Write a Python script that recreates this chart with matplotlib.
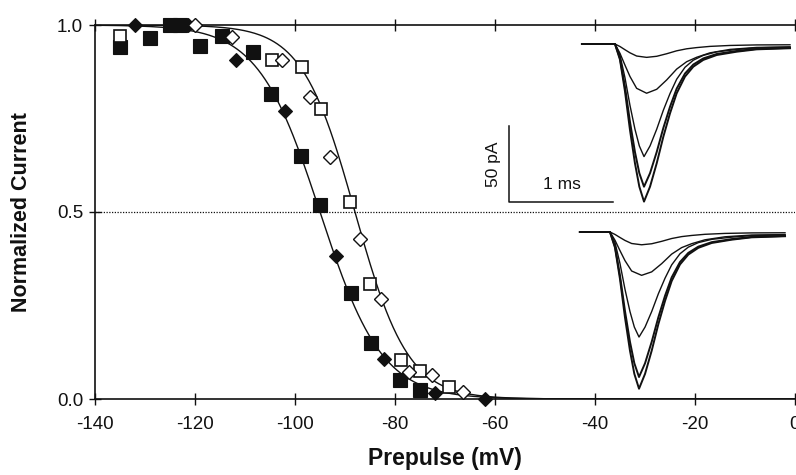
"""
Steady-state inactivation curves with example current traces (inset).
"""

import numpy as np
import matplotlib

matplotlib.use("Agg")
import matplotlib.pyplot as plt

plt.rcParams["font.family"] = ["Liberation Sans", "DejaVu Sans"]
plt.rcParams["axes.unicode_minus"] = False

# --- data ---------------------------------------------------------------
# filled squares
sq_fill_v = [-135, -129, -125, -123, -119, -114.7, -108.5, -104.8, -98.8, -95,
             -88.9, -84.8, -79, -75]
sq_fill_i = [0.94, 0.964, 1.0, 1.0, 0.943, 0.971, 0.928, 0.815, 0.65, 0.519,
             0.284, 0.15, 0.051, 0.025]
# filled diamonds
dm_fill_v = [-132, -121.5, -111.8, -102, -91.8, -82.2, -72, -62]
dm_fill_i = [1.0, 1.0, 0.906, 0.77, 0.382, 0.107, 0.015, 0.0]
# open squares
sq_open_v = [-135, -104.7, -98.7, -94.9, -89, -85.1, -78.9, -75, -69.2]
sq_open_i = [0.971, 0.906, 0.887, 0.775, 0.526, 0.307, 0.104, 0.074, 0.032]
# open diamonds
dm_open_v = [-120, -112.7, -102.7, -97, -93, -87.1, -82.9, -77.3, -72.7, -66.4]
dm_open_i = [1.0, 0.969, 0.906, 0.807, 0.648, 0.427, 0.267, 0.073, 0.064, 0.02]

# Boltzmann fits: (V1/2 in mV, slope k in mV)
fit_filled = (-95.0, 6.2)
fit_open = (-88.0, 5.3)

# inset traces: normalised waveforms (ms after onset, fraction of peak)
# large currents
big_t = [0.0, 0.048, 0.096, 0.144, 0.192, 0.234, 0.279, 0.337, 0.401, 0.465,
         0.529, 0.593, 0.673, 0.753, 0.849, 0.978, 1.17, 1.362, 1.683]
big_f = [0.0, 0.10, 0.30, 0.545, 0.757, 0.905, 1.0, 0.905, 0.757, 0.588,
         0.44, 0.313, 0.207, 0.144, 0.101, 0.07, 0.049, 0.034, 0.027]
# small currents (broader)
small_t = [0.0, 0.048, 0.096, 0.144, 0.208, 0.304, 0.401, 0.497, 0.593,
           0.689, 0.785, 0.913, 1.106, 1.362, 1.683]
small_f = [0.0, 0.19, 0.43, 0.66, 0.90, 1.0, 0.92, 0.73, 0.51, 0.36, 0.27,
           0.18, 0.11, 0.07, 0.06]
# peak amplitudes (pA) of the two families of traces
peaks_top = [8.8, 32.4, 74.1, 93.9, 103.7]
peaks_bottom = [8.4, 28.5, 69.1, 95.4, 103.1]

x_ticks = [-140, -120, -100, -80, -60, -40, -20, 0]
y_ticks = [0.0, 0.5, 1.0]
y_tick_labels = ["0.0", "0.5", "1.0"]

INK = "#111111"


def boltzmann(v, v_half, k):
    return 1.0 / (1.0 + np.exp((v - v_half) / k))


def draw_family(ax, peaks, t_start, t_onset, base):
    """Draw one family of traces hanging down from a common baseline."""
    for amp in peaks:
        if amp < 40:
            wt, wf = small_t, small_f
        else:
            wt, wf = big_t, big_f
        t = np.concatenate([[t_start], t_onset + np.asarray(wt)])
        f = np.concatenate([[0.0], np.asarray(wf)])
        lw = 1.4 if amp > 90 else 1.0
        ax.plot(t, base - amp * f, color=INK, lw=lw, solid_joinstyle="round")


fig = plt.figure(figsize=(7.96, 4.75), dpi=100)
ax = fig.add_axes([95 / 796, 76 / 475, 700 / 796, 374 / 475])

# fitted curves
v = np.linspace(-140, 0, 400)
ax.plot(v, boltzmann(v, *fit_filled), color=INK, lw=1.0, zorder=2)
ax.plot(v, boltzmann(v, *fit_open), color=INK, lw=1.0, zorder=2)

ax.axhline(0.5, color=INK, lw=0.9, ls=(0, (1, 1.2)), zorder=1)

ax.plot(sq_fill_v, sq_fill_i, "s", ms=9.5, mfc=INK, mec=INK, mew=0.8,
        clip_on=False, zorder=4)
ax.plot(dm_fill_v, dm_fill_i, "D", ms=7, mfc=INK, mec=INK, mew=0.8,
        clip_on=False, zorder=4)
ax.plot(sq_open_v, sq_open_i, "s", ms=9, mfc="white", mec=INK, mew=1.2,
        clip_on=False, zorder=5)
ax.plot(dm_open_v, dm_open_i, "D", ms=7, mfc="white", mec=INK, mew=1.0,
        clip_on=False, zorder=5)

ax.set_xlim(-140, 0)
ax.set_ylim(0, 1)
ax.set_xticks(x_ticks)
ax.set_xticklabels([str(x) for x in x_ticks])
ax.set_yticks(y_ticks)
ax.set_yticklabels(y_tick_labels)
ax.tick_params(direction="inout", length=9, width=1.0, color=INK,
               labelsize=13.5, labelcolor=INK, top=True, pad=4)
ax.tick_params(axis="x", pad=8)
for side in ("left", "bottom", "top"):
    ax.spines[side].set_linewidth(1.2)
    ax.spines[side].set_color(INK)
ax.spines["right"].set_visible(False)

ax.set_xlabel("Prepulse (mV)", fontsize=16.5, fontweight="bold", labelpad=10,
              color=INK)
ax.set_ylabel("Normalized Current", fontsize=15.5, fontweight="bold",
              labelpad=18, color=INK)

# inset with example currents: x in ms, y in pA
ins = fig.add_axes([480 / 796, 65 / 475, 316 / 796, 390 / 475])
ins.set_xlim(0, 316 / 104)
ins.set_ylim(0, 390 / 1.52)
ins.axis("off")

draw_family(ins, peaks_top, 0.98, 1.298, 240.8)
draw_family(ins, peaks_bottom, 0.96, 1.25, 117.1)

# scale bar: 50 pA, 1 ms
ins.plot([0.279, 0.279, 1.279], [186.8, 137.0, 137.0], color=INK, lw=1.1)
ins.text(0.13, 162, "50 pA", rotation=90, ha="center", va="center",
         fontsize=12.5, color=INK)
ins.text(0.79, 148.5, "1 ms", ha="center", va="center", fontsize=12.5,
         color=INK)

fig.savefig("out.png", dpi=100)
